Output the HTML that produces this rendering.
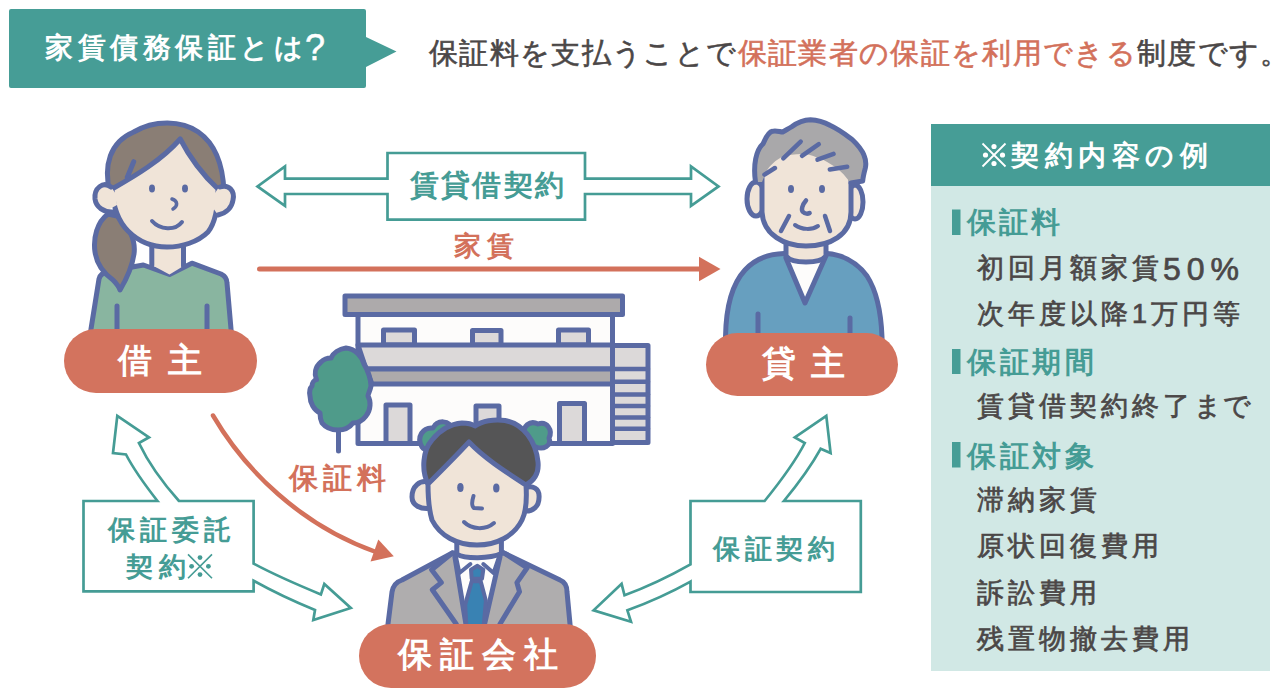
<!DOCTYPE html>
<html lang="ja">
<head>
<meta charset="utf-8">
<style>
html,body{margin:0;padding:0;background:#fff;}
body{width:1280px;height:697px;position:relative;overflow:hidden;font-family:"Liberation Sans",sans-serif;}
svg.g{position:absolute;left:0;top:0;}
.t{position:absolute;white-space:nowrap;line-height:1;}
.w{color:#fff;}
.dk{color:#4b4747;}
.md{-webkit-text-stroke:0.7px currentColor;}
.rd{color:#d3715b;}
.tl{color:#459c95;}
</style>
</head>
<body>
<svg class="g" width="1280" height="697" viewBox="0 0 1280 697">
  <!-- header -->
  <path d="M11,9 H364 a2,2 0 0 1 2,2 V37 L396.5,51.5 L366,67 V86 a2,2 0 0 1 -2,2 H11 a2,2 0 0 1 -2,-2 V11 a2,2 0 0 1 2,-2 Z" fill="#469d96"/>
  <!-- panel -->
  <rect x="931" y="124" width="339" height="547" fill="#d1e8e5"/>
  <rect x="931" y="124" width="339" height="62" fill="#469d96"/>
  <g fill="#469d96">
    <rect x="952" y="209.5" width="8.5" height="25.5"/>
    <rect x="952" y="349" width="8.5" height="25"/>
    <rect x="952" y="442" width="8.5" height="25.5"/>
  </g>

  <!-- arrows teal -->
  <g fill="#fff" stroke="#459c95" stroke-width="2.7" stroke-linejoin="miter">
    <path d="M387.5,178.6 L285,178.6 L285,166.5 L257.5,186.4 L285,205.8 L285,194 L387.5,194 L387.5,219.6 L585,219.6 L585,194 L691,194 L691,205.8 L718.5,186.4 L691,166.5 L691,178.6 L585,178.6 L585,153 L387.5,153 Z"/>
    <path d="M83.5,501 L157.5,501 C145,485 133,468 126,454.5 L113,453 L117.3,415.8 L149,437.3 L138.9,443 C148,462 162,482 179,501 L253.6,501 L253.6,563.6 C275,575 298,585 320.9,594.4 L324.3,584 L350.8,608 L313.3,620 L315,610 C293,601 272,591 253.6,580.7 L253.6,591.4 L83.5,591.4 Z"/>
    <path d="M690.5,501 L764.6,501 C780,482 795,462 804.8,443 L794.8,437.3 L826.3,415.8 L830.6,453 L820.6,448.8 C810,468 797,485 783.9,501 L860.8,501 L860.8,592 L690.5,592 L690.5,581.6 C670,593 650,602 627.4,610.3 L631,621.8 L593.6,610.3 L621.6,583.8 L624.5,595.3 C647,587 670,576 690.5,564.4 Z"/>
  </g>
  <!-- red arrows -->
  <g stroke="#d3715b" fill="none" stroke-linecap="round">
    <line x1="259.5" y1="269" x2="702" y2="269" stroke-width="5"/>
    <path d="M213,415.5 C245,470 300,525 376,552" stroke-width="4.5"/>
  </g>
  <g fill="#d3715b">
    <path d="M699,256.7 L720.5,269 L699,281.3 Z"/>
    <path d="M378.3,539.5 L393.8,556.3 L370.5,561.5 Z"/>
  </g>

  <!-- building -->
  <g stroke="#5a6aa3" stroke-width="5" stroke-linejoin="round" stroke-linecap="round">
    <rect x="358" y="314" width="254.5" height="129.5" fill="#fdfcfb"/>
    <rect x="612.5" y="345.5" width="35.5" height="97" fill="#dcd9d9"/>
    <g stroke-width="4.5">
      <line x1="612.5" y1="369" x2="648" y2="369"/>
      <line x1="612.5" y1="381.8" x2="648" y2="381.8"/>
      <line x1="612.5" y1="394.4" x2="648" y2="394.4"/>
      <line x1="612.5" y1="405.9" x2="648" y2="405.9"/>
      <line x1="612.5" y1="417.4" x2="648" y2="417.4"/>
      <line x1="612.5" y1="428.8" x2="648" y2="428.8"/>
    </g>
    <rect x="345" y="296" width="277.5" height="18.5" fill="#adaaab"/>
    <rect x="383.5" y="330" width="31" height="15" fill="#dcd9d9"/>
    <rect x="472.5" y="330.5" width="28.5" height="14.5" fill="#dcd9d9"/>
    <rect x="558.5" y="330" width="30" height="15" fill="#dcd9d9"/>
    <path d="M358,345 H612.5 V369 H366 Z" fill="#dcd9d9"/>
    <path d="M366,369 H612.5 V384 H372 Z" fill="#adaaab"/>
    <rect x="386" y="405" width="24" height="38.5" fill="#dcd9d9"/>
    <rect x="476" y="406" width="23" height="37.5" fill="#dcd9d9"/>
    <rect x="559.5" y="403.5" width="25" height="40" fill="#dcd9d9"/>
    <line x1="338.5" y1="429" x2="338.5" y2="451"/>
    <path d="M346,348 C356,349 362,357 364,364 C368,370 371,380 371,386 C370,391 368,394 368,396 C371,401 371,410 366,416 C363,420 358,423 353,423 C350,427 344,430 338,430 C332,430 326,428 322,423 C320,419 320,415 320,413 C314,410 310,403 310,396 C309,391 310,388 312,386 C312,383 314,380 316.5,379.6 C314,374 315,367 321,362 C324,359 328,358 331,358 C333,353 339,349 346,348 Z" fill="#4f9b8a"/>
  </g>

  <!-- woman -->
  <g stroke="#5a6aa3" stroke-width="5" stroke-linejoin="round" stroke-linecap="round">
    <path d="M89.5,345 L91,329 L99,279 C100,274 104,272 110,271 L143.4,265 L169.5,274.4 L191.9,263.2 L221,274 C225,276 227,279 227,283 L231,329 L232,345 Z" fill="#89b5a0"/>
    <path d="M151.8,238 V265 L169.5,274.4 L183.5,266 V238 Z" fill="#f0e4d8" stroke="none"/>
    <path d="M151.8,238 V265 M183.5,266 V238" fill="none"/>
    <line x1="117" y1="306" x2="117" y2="340"/>
    <line x1="207" y1="306" x2="207" y2="340"/>
    <path d="M108,214 C97,222 93,238 95,252 C97,266 106,275 113,280 C117,284 119,287 120,290 C126,280 132,268 134,254 C136,240 128,224 117,216 Z" fill="#8a7e75"/>
    <path d="M110,194 C103,165 110,142 133.7,132 C145,125 156,122.9 167.3,122.9 C180,123 190,126 198.3,132 C214,143 223,162 224,192 L216,194 Z" fill="#8a7e75"/>
    <path d="M112,189 C135,176 162,160 180.2,139 C190,158 204,176 218,189 C218,205 216,222 208,232 C198,242 182,247 167,247 C152,247 138,241 128,231 C118,221 113,205 112,189 Z" fill="#f0e4d8"/>
    <path d="M111,187 C103,181 94,188 95,199 C96,205 100,209 106,211 L117,205 L116,194 Z" fill="#f0e4d8" stroke="none"/>
    <path d="M111,187 C103,181 94,188 95,199 C96,207 104,213 114,212" fill="none"/>
    <path d="M219,187 C229,184 235,191 233,200 C232,207 227,213 218,215 L213,208 L215,193 Z" fill="#f0e4d8" stroke="none"/>
    <path d="M220,187 C229,184 235,191 233,200 C232,207 227,213 218,215" fill="none"/>
    <path d="M133.7,161.7 L127.3,177.2" fill="none"/>
    <g fill="#5a6aa3" stroke="none">
      <ellipse cx="152" cy="188.5" rx="3" ry="4"/>
      <ellipse cx="185" cy="188.5" rx="3" ry="4"/>
    </g>
    <path d="M172,199 C178,201 178,206 173,209" fill="none" stroke-width="3.5"/>
    <path d="M152,221 C160,230 175,231 182,222" fill="none" stroke-width="4"/>
  </g>

  <!-- old man -->
  <g stroke="#5a6aa3" stroke-width="5" stroke-linejoin="round" stroke-linecap="round">
    <path d="M725.5,350 L725.5,337 C726,305 732,284 745,270 C755,259 770,254 784,253.6 L827,253.6 C845,255 858,264 867,276 C876,290 881,310 882,337 L882,350 Z" fill="#679fbf"/>
    <path d="M786,258 L805,303 L825,258 C815,266 796,266 786,258 Z" fill="#fdfcfb" stroke="none"/>
    <path d="M786,258 L805,303 L825,258" fill="none"/>
    <path d="M786,238 V256 C792,264 820,264 826,256 V238 Z" fill="#f0e4d8"/>
    <line x1="758" y1="314" x2="758" y2="345"/>
    <line x1="850" y1="318" x2="850" y2="345"/>
    <ellipse cx="756" cy="199" rx="9" ry="17" fill="#f0e4d8"/>
    <ellipse cx="855" cy="202" rx="8" ry="17" fill="#f0e4d8"/>
    <path d="M762,150 L762,212 C763,235 785,246 806,246 C830,246 851,235 851,212 L851,150 Z" fill="#f0e4d8" stroke="none"/>
    <path d="M762,175 L762,212 C763,235 785,246 806,246 C830,246 851,235 851,212 L851,172" fill="none"/>
    <path d="M755.5,182 C753,165 756,150 763.2,143.6 C766,137 769,132 772.3,131.3 C776,130 780,132 782.6,132 C786,130 790,128 791.7,126.8 C798,122 804,119.7 810.4,119.7 C818,120 824,122 830.4,125.5 C840,130 846,135 852.4,139.7 C858,145 862,150 864,155.2 C866,160 866,165 865.3,168.1 C864,173 863,177 862.7,181 L849.8,182.3 C845,175 838,168 830.4,164 C826,161 822,159 817.5,157.8 C812,155 806,154 802,154 C795,154 788,155 782.6,156.5 C776,160 770,165 766,172 L762,182 Z" fill="#a9a8aa" stroke="none"/>
    <path d="M755.5,182 C753,165 756,150 763.2,143.6 C766,137 769,132 772.3,131.3 C776,130 780,132 782.6,132 C786,130 790,128 791.7,126.8 C798,122 804,119.7 810.4,119.7 C818,120 824,122 830.4,125.5 C840,130 846,135 852.4,139.7 C858,145 862,150 864,155.2 C866,160 866,165 865.3,168.1 C864,173 863,177 862.7,181 L851,183" fill="none"/>
    <g fill="none" stroke-width="4.5">
      <path d="M783.3,158.4 L800.7,141.6"/>
      <path d="M802,155.8 L818.8,144.2"/>
      <path d="M817.5,159.7 L833.6,153.9"/>
      <path d="M829.8,169.4 L847.2,166.8"/>
      <path d="M764.5,174.6 L774.9,168"/>
      <path d="M789,216 L781,231"/>
      <path d="M825,216 L830,231"/>
      <path d="M806,200.5 C802,205 801,210 803,212 C805,214 808,214 809.6,213" stroke-width="4.5"/>
      <path d="M795,225 C802,230 812,230 818,226" stroke-width="4"/>
    </g>
    <g fill="#5a6aa3" stroke="none">
      <ellipse cx="791" cy="189" rx="3" ry="4"/>
      <ellipse cx="822" cy="189" rx="3" ry="4"/>
    </g>
  </g>

  <!-- staff -->
  <g stroke="#5a6aa3" stroke-width="5" stroke-linejoin="round" stroke-linecap="round">
    <path d="M422,447 C416,437 423,427 433,428 C437,420 450,419 452,430 C456,440 448,450 438,450 C432,452 425,451 422,447 Z" fill="#4f9b8a"/>
    <path d="M524,436 C522,426 530,420 538,424 C547,421 553,430 549,438 C552,446 543,450 536,447 C529,449 524,444 524,436 Z" fill="#4f9b8a"/>
    <path d="M387,640 L388,624 L392,592 C393,586 396,582 402,580 L452.3,553 L504,553 L560,580 C565,582 567,586 567,592 L570,624 L571,640 Z" fill="#afadae"/>
    <path d="M454.9,556 L465.9,624 L484.6,624 L500,556 Z" fill="#fdfcfb" stroke="none"/>
    <path d="M456.8,536 V554.2 C465,559 490,559 501.4,553.6 V536 Z" fill="#f0e4d8"/>
    <path d="M456,557 L459.4,573 L470.4,564 M499,557 L493.6,573 L483.3,564" fill="none" stroke-width="4"/>
    <path d="M454.9,556.8 L465.9,624 M500,556.8 L484.6,624" fill="none"/>
    <path d="M471,569.7 L477.5,565.8 L483.3,569.7 L482,578.7 L471.7,578.7 Z" fill="#3982b3" stroke-width="4"/>
    <path d="M471.7,581.3 L480.7,581.3 L485.9,600.7 L482.5,640 L467,640 L465.2,604.6 Z" fill="#3982b3" stroke-width="4"/>
    <path d="M452.3,553 L431.6,569.7 L441.3,582.6 L432.3,589.7 L456.2,624 M504,553 L527.2,567.8 L516.9,582.6 L519.5,591.7 L500,624" fill="none"/>
    <path d="M412,497 C412,486 420,480 428,482 L432,508 C420,510 412,505 412,497 Z" fill="#f0e4d8"/>
    <path d="M539,498 C540,488 532,485 525,488 L524,511 C533,512 539,506 539,498 Z" fill="#f0e4d8"/>
    <path d="M428,484 C421,470 423,450 432,440 C440,430 450,424 462,423 C468,423 472,424 475,426 C482,421 494,419 505,420.5 C524,424 536,442 538,462 C539,472 535,480 526,485 Z" fill="#555556"/>
    <path d="M428,484 C442,470 456,456 469,442 C484,458 506,472 526,485 C527,500 526,512 522,520 C514,536 497,545 477,545 C457,545 440,536 432,520 C429,510 428,498 428,484 Z" fill="#f0e4d8"/>
    <g fill="#5a6aa3" stroke="none">
      <ellipse cx="460.4" cy="487.5" rx="3.2" ry="4.5"/>
      <ellipse cx="496.3" cy="488" rx="3.2" ry="4.5"/>
    </g>
    <path d="M473.5,496 C472,501 471,506 474,508 L482,508.5" fill="none" stroke-width="4"/>
    <path d="M464,522 C472,530 486,530 494,523" fill="none" stroke-width="4"/>
  </g>

  <!-- pills -->
  <g fill="#d3735e">
    <rect x="64" y="329" width="193" height="64" rx="32"/>
    <rect x="706" y="333" width="192" height="63" rx="31.5"/>
    <rect x="359" y="624" width="237" height="64" rx="32"/>
  </g>
  <!-- kome marks -->
  <g stroke="#fff" stroke-width="1.8" fill="#fff">
    <path d="M982.5,143.5 L1005.5,166.5 M1005.5,143.5 L982.5,166.5"/>
    <g stroke="none"><circle cx="994" cy="146.5" r="2.6"/><circle cx="994" cy="163.5" r="2.6"/><circle cx="985.5" cy="155" r="2.6"/><circle cx="1002.5" cy="155" r="2.6"/></g>
  </g>
  <g stroke="#459c95" stroke-width="1.6" fill="#459c95">
    <path d="M188,554.4 L212,578.2 M212,554.4 L188,578.2"/>
    <g stroke="none"><circle cx="200" cy="557.6" r="2.4"/><circle cx="200" cy="574.6" r="2.4"/><circle cx="191.6" cy="566.3" r="2.4"/><circle cx="208.4" cy="566.3" r="2.4"/></g>
  </g>
</svg>

<!-- texts -->
<div class="t w" style="left:45px;top:34px;font-size:28px;letter-spacing:4.5px;font-weight:bold">家賃債務保証とは<span style="font-size:36px;line-height:0;vertical-align:-3px;font-weight:normal;margin-left:-2px;-webkit-text-stroke:0.5px #fff">?</span></div>
<div class="t dk" style="left:429px;top:38px;font-size:29.3px;letter-spacing:1.35px;-webkit-text-stroke:0.6px currentColor">保証料を支払うことで<span class="rd">保証業者の保証を利用できる</span>制度です。</div>

<div class="t w" style="left:1011px;top:142px;font-size:28px;letter-spacing:5.5px;font-weight:bold">契約内容の例</div>

<div class="t tl" style="left:967px;top:208px;font-size:28.5px;letter-spacing:3.2px;font-weight:bold">保証料</div>
<div class="t dk md" style="left:977px;top:255px;font-size:27px;letter-spacing:4px">初回月額家賃<span style="font-size:32px;letter-spacing:6px;line-height:0;vertical-align:-2.5px">50%</span></div>
<div class="t dk md" style="left:977px;top:301px;font-size:27px;letter-spacing:4px">次年度以降1万円等</div>
<div class="t tl" style="left:967px;top:348px;font-size:28.5px;letter-spacing:3.6px;font-weight:bold">保証期間</div>
<div class="t dk md" style="left:977px;top:393px;font-size:27px;letter-spacing:4px">賃貸借契約終了<span style="letter-spacing:1px">まで</span></div>
<div class="t tl" style="left:967px;top:442px;font-size:28.5px;letter-spacing:3.6px;font-weight:bold">保証対象</div>
<div class="t dk md" style="left:977px;top:487px;font-size:27px;letter-spacing:4px">滞納家賃</div>
<div class="t dk md" style="left:977px;top:533px;font-size:27px;letter-spacing:4px">原状回復費用</div>
<div class="t dk md" style="left:977px;top:580px;font-size:27px;letter-spacing:4px">訴訟費用</div>
<div class="t dk md" style="left:977px;top:626px;font-size:27px;letter-spacing:4px">残置物撤去費用</div>

<div class="t tl" style="left:410px;top:171px;font-size:29px;letter-spacing:2.2px;font-weight:bold">賃貸借契約</div>
<div class="t rd" style="left:454px;top:233px;font-size:27px;letter-spacing:6px;font-weight:bold">家賃</div>
<div class="t rd" style="left:289px;top:464px;font-size:28.5px;letter-spacing:4.8px;font-weight:bold">保証料</div>
<div class="t tl" style="left:108px;top:517px;font-size:27px;letter-spacing:5px;font-weight:bold">保証委託</div>
<div class="t tl" style="left:126px;top:554px;font-size:27px;letter-spacing:5.5px;font-weight:bold">契約</div>
<div class="t tl" style="left:713px;top:536px;font-size:27px;letter-spacing:4.5px;font-weight:bold">保証契約</div>

<div class="t w" style="left:118px;top:343px;font-size:34px;letter-spacing:16px;font-weight:bold">借主</div>
<div class="t w" style="left:762px;top:346px;font-size:34px;letter-spacing:15px;font-weight:bold">貸主</div>
<div class="t w" style="left:398px;top:637px;font-size:34px;letter-spacing:8px;font-weight:bold">保証会社</div>
</body>
</html>
